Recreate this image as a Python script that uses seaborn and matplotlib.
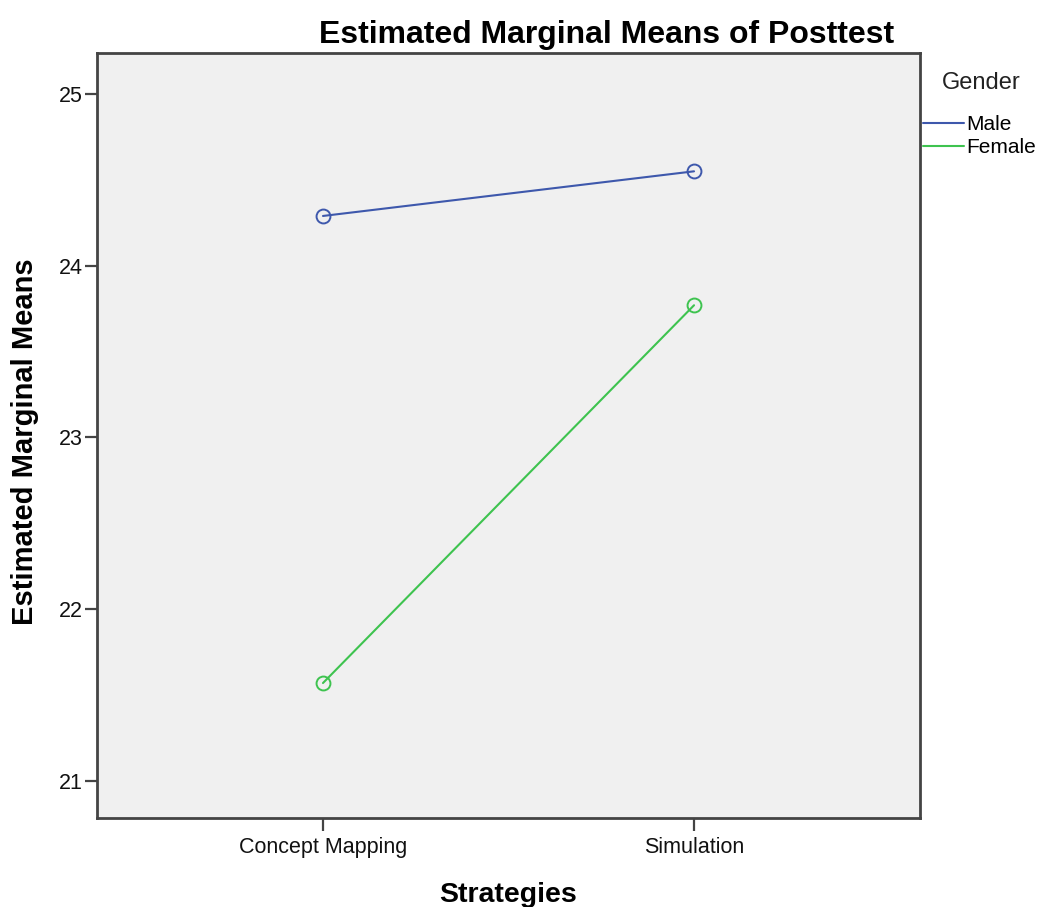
import pandas as pd
import matplotlib.pyplot as plt
import seaborn as sns
from matplotlib.lines import Line2D

# Values
strategies = ['Concept Mapping', 'Simulation']
genders = ['Male', 'Female']
male_means = [24.29, 24.55]
female_means = [21.57, 23.77]
y_ticks = [21, 22, 23, 24, 25]
line_colors = ['#3E58AC', '#3EC34F']

df = pd.DataFrame({
    'Strategy': strategies * 2,
    'Gender': [genders[0]] * 2 + [genders[1]] * 2,
    'Mean': male_means + female_means,
})

sns.set_style('white')
plt.rcParams['font.family'] = ['Liberation Sans', 'DejaVu Sans']
plt.rcParams['text.color'] = 'black'

fig = plt.figure(figsize=(10.38, 9.07), dpi=100)
ax = fig.add_axes([97 / 1038, 1 - 818 / 907, 823 / 1038, 765 / 907])
ax.set_facecolor('#F0F0F0')

sns.lineplot(data=df, x='Strategy', y='Mean', hue='Gender', hue_order=genders,
             palette=line_colors, marker='o', markersize=10, markerfacecolor='none',
             markeredgewidth=1.4, linewidth=1.5, legend=False, ax=ax)
for line, c in zip(ax.lines, line_colors):
    line.set_markeredgecolor(c)

ax.set_xlim(-0.609, 1.609)
ax.set_ylim(20.784, 25.239)
ax.set_yticks(y_ticks)
ax.set_xticks(range(len(strategies)))
ax.set_xticklabels(strategies)
ax.set_xlabel('')
ax.set_ylabel('')

for s in ax.spines.values():
    s.set_visible(True)
    s.set_color('#444444')
    s.set_linewidth(2)
ax.tick_params(axis='both', direction='out', length=9, width=1.6, color='#444444',
               labelsize=15.5, labelcolor='#111111')
ax.tick_params(axis='y', pad=1.5, left=True)
ax.tick_params(axis='x', pad=4.5, bottom=True)

fig.text(607 / 1038, 1 - 43 / 907, 'Estimated Marginal Means of Posttest',
         ha='center', va='baseline', fontsize=23, fontweight='bold')
fig.text(508 / 1038, 1 - 902 / 907, 'Strategies', ha='center', va='baseline',
         fontsize=20.5, fontweight='bold')
fig.text(25 / 1038, 1 - 442 / 907, 'Estimated Marginal Means', ha='center', va='center',
         rotation=90, fontsize=21, fontweight='bold')

# legend title placed on its own, SPSS leaves a wide gap above the entries
fig.text(981 / 1038, 1 - 89 / 907, 'Gender', ha='center', va='baseline', fontsize=17,
         color='#222222')
handles = [Line2D([], [], color=c, linewidth=1.5) for c in line_colors]
leg = fig.legend(handles, genders, loc='upper left',
                 bbox_to_anchor=(923 / 1038, 1 - 115 / 907), frameon=False,
                 fontsize=15, handlelength=1.95, handletextpad=0.15,
                 labelspacing=0.2, borderpad=0, borderaxespad=0)

fig.savefig('out.png', dpi=100)
